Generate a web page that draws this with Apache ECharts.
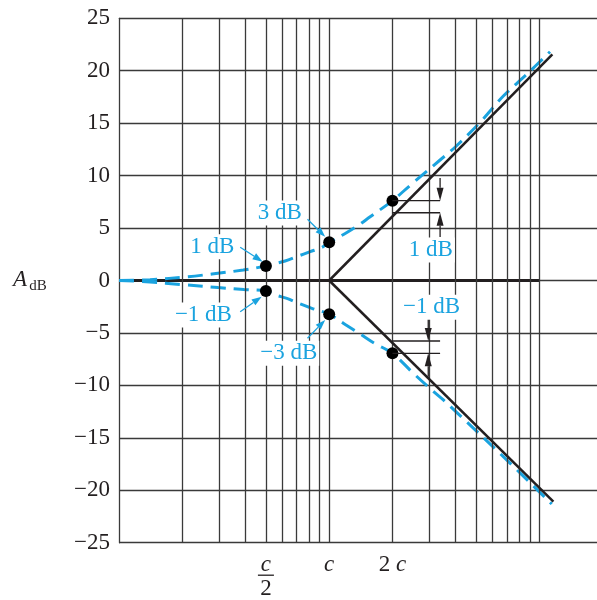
<!DOCTYPE html>
<html><head><meta charset="utf-8">
<script src="https://cdn.jsdelivr.net/npm/echarts@6/dist/echarts.min.js"></script>
<style>html,body{margin:0;padding:0;background:#fff}#c{width:597px;height:600px}</style>
</head><body><div id="c"></div>
<script>
// ---------- data ----------
const yMin = -25, yMax = 25, yStep = 5;
const gridFreqs = [2,3,4,5,6,7,8,9,10,20,30,40,50,60,70,80,90,100];
const xTickValues = [5, 10, 20];
const xTickLabels = ['c/2', 'c', '2 c'];
const zeroLine = [[1,0],[100,0]];
const asymUpper = [[10,0],[115.3,21.56]];
const asymLower = [[10,0],[116.6,-21.09]];
const exactUpper = [[1,0],[1.405,0.08],[2.13,0.36],[2.77,0.62],[3.9,1.0],[5,1.38],[5.43,1.57],[6.17,1.86],[7.04,2.29],[8.12,2.75],[9.23,3.16],[10,3.64],[11.92,4.48],[13.72,5.24],[15.67,6.08],[20,7.61],[24.3,9.08],[33.7,11.49],[39.8,12.73],[52.4,15.11],[67.4,17.59],[87.1,19.66],[112.4,21.81]];
const exactLower = [[1,0],[1.405,-0.14],[1.97,-0.38],[2.96,-0.67],[3.93,-0.86],[5,-1.0],[5.53,-1.38],[6.29,-1.70],[7.14,-2.17],[8.27,-2.65],[10,-3.22],[11.92,-4.19],[14.05,-5.10],[16.5,-6.01],[20,-6.94],[25.06,-8.82],[30.76,-10.44],[34.93,-11.39],[66.45,-16.68],[114.5,-21.31]];
const dotsUpper = [[5,1.38],[10,3.64],[20,7.61]];
const dotsLower = [[5,-1.0],[10,-3.22],[20,-6.94]];
const dotLabelsUpper = ['1 dB', '3 dB'];
const dotLabelsLower = ['\u22121 dB', '\u22123 dB'];
const dimUpperLevels = [7.61, 6.46];
const dimLowerLevels = [-5.77, -6.94];
const dimFrom = 20, dimTo = 33.7;
const dimUpperArrowF = 33.7, dimLowerArrowF = 29.6;
const dimUpperArrows = [[9.77, 7.61], [4.15, 6.46]];
const dimLowerArrows = [[-3.6, -5.77], [-9.17, -6.94]];
const dimLabels = ['1 dB', '\u22121 dB'];

// ---------- styles ----------
const FONT = '"Liberation Serif","Times New Roman",serif';
const BLUE = '#1aa3df';
const INK = '#231f20';
const GRIDC = '#3a3a3a';

const chart = echarts.init(document.getElementById('c'));
const option = {
  animation: false,
  backgroundColor: '#fff',
  grid: {left: 119, right: 0, top: 18.3, bottom: 57.3, containLabel: false},
  xAxis: {type: 'log', logBase: 10, min: 1, max: 188,
    axisLine: {show: false}, axisTick: {show: false}, axisLabel: {show: false},
    splitLine: {show: false}, minorTick: {show: false}, minorSplitLine: {show: false}},
  yAxis: {type: 'value', min: yMin, max: yMax, interval: yStep,
    axisLine: {show: true, lineStyle: {color: GRIDC, width: 1.3}},
    axisTick: {show: false},
    axisLabel: {fontFamily: FONT, fontSize: 23, color: INK, margin: 9,
      formatter: v => v < 0 ? '\u2212' + Math.abs(v) : String(v)},
    splitLine: {show: true, lineStyle: {color: GRIDC, width: 1.3}}},
  series: [
    {type: 'line', name: 'vgrid', data: [[1,0]], symbol: 'none', lineStyle: {opacity: 0}, silent: true, z: 1,
      markLine: {silent: true, symbol: ['none','none'], label: {show: false}, animation: false,
        lineStyle: {color: GRIDC, width: 1.3, type: 'solid'}, emphasis: {disabled: true},
        data: gridFreqs.map(f => ({xAxis: f}))}},
    {type: 'line', name: 'zero', data: zeroLine, symbol: 'none', silent: true, z: 3,
      lineStyle: {color: INK, width: 3}},
    {type: 'line', name: 'exactU', data: exactUpper, symbol: 'none', smooth: 0.35, silent: true, z: 4,
      lineStyle: {color: BLUE, width: 3, type: [15, 8]}},
    {type: 'line', name: 'exactL', data: exactLower, symbol: 'none', smooth: 0.35, silent: true, z: 4,
      lineStyle: {color: BLUE, width: 3, type: [15, 8]}},
    {type: 'line', name: 'asymU', data: asymUpper, symbol: 'none', silent: true, z: 5,
      lineStyle: {color: INK, width: 2.5}},
    {type: 'line', name: 'asymL', data: asymLower, symbol: 'none', silent: true, z: 5,
      lineStyle: {color: INK, width: 2.5}},
    {type: 'scatter', name: 'dots', data: dotsUpper.concat(dotsLower), symbol: 'circle', symbolSize: 12,
      silent: true, z: 10, itemStyle: {color: '#000', opacity: 1}}
  ]
};
chart.setOption(option);

// ---------- annotations positioned from data via the chart's scales ----------
const P = (f, v) => chart.convertToPixel({gridIndex: 0}, [f, v]);
const g = [];
function txt(str, x, y, opt) {
  opt = opt || {};
  g.push({type: 'text', z: 60, x: x, y: y, style: Object.assign({
    text: str, font: (opt.italic ? 'italic ' : '') + (opt.size || 23) + 'px ' + FONT,
    fill: opt.color || INK, align: opt.align || 'center', verticalAlign: 'middle',
    textAlign: opt.align || 'center', textVerticalAlign: 'middle'}, opt.extra || {})});
}
function arrow(x1, y1, x2, y2, color, len, wid, lw) {
  const dx = x2 - x1, dy = y2 - y1, d = Math.hypot(dx, dy), ux = dx / d, uy = dy / d;
  const bx = x2 - ux * len, by = y2 - uy * len, nx = -uy, ny = ux;
  g.push({type: 'line', z: 55, shape: {x1: x1, y1: y1, x2: bx, y2: by}, style: {stroke: color, lineWidth: lw}});
  g.push({type: 'polygon', z: 55, shape: {points: [[x2, y2], [bx + nx * wid / 2, by + ny * wid / 2], [bx - nx * wid / 2, by - ny * wid / 2]]}, style: {fill: color}});
}
const whiteBg = {backgroundColor: '#fff', padding: [1, 2]};

// callouts to dots: [dot, label, text offset, arrow tail offset, arrow tip offset]
const callouts = [
  [dotsUpper[0], dotLabelsUpper[0], [-53.5, -19.3], [-25.7, -18.7], [-3.3, -4.3]],
  [dotsUpper[1], dotLabelsUpper[1], [-49.5, -29.3], [-21.7, -23], [-4, -5.6]],
  [dotsLower[0], dotLabelsLower[0], [-62.5, 24], [-25.7, 20.7], [-4.3, 5.7]],
  [dotsLower[1], dotLabelsLower[1], [-40.5, 39], [-21.7, 24], [-4, 5.7]]
];
callouts.forEach(c => {
  const p = P(c[0][0], c[0][1]);
  txt(c[1], p[0] + c[2][0], p[1] + c[2][1], {color: BLUE, extra: whiteBg});
  arrow(p[0] + c[3][0], p[1] + c[3][1], p[0] + c[4][0], p[1] + c[4][1], BLUE, 10, 7, 1.3);
});

// dimension lines
dimUpperLevels.concat(dimLowerLevels).forEach(v => {
  const a = P(dimFrom, v), b = P(dimTo, v);
  g.push({type: 'line', z: 55, shape: {x1: a[0], y1: a[1], x2: b[0], y2: b[1]}, style: {stroke: INK, lineWidth: 1.3}});
});
dimUpperArrows.forEach(r => {
  const a = P(dimUpperArrowF, r[0]), b = P(dimUpperArrowF, r[1]);
  arrow(a[0], a[1], b[0], b[1], INK, 13, 7, 1.3);
});
dimLowerArrows.forEach(r => {
  const a = P(dimLowerArrowF, r[0]), b = P(dimLowerArrowF, r[1]);
  arrow(a[0], a[1], b[0], b[1], INK, 13, 7, 1.3);
});
{
  const a = P(dimUpperArrowF, dimUpperLevels[1]);
  txt(dimLabels[0], a[0] - 9.3, a[1] + 37.3, {color: BLUE, extra: whiteBg});
  const b = P(dimLowerArrowF, dimLowerLevels[0]);
  txt(dimLabels[1], b[0] + 3.4, b[1] - 33.7, {color: BLUE, extra: whiteBg});
}

// x tick labels
{
  const p0 = P(xTickValues[0], yMin);
  txt('c', p0[0], p0[1] + 22, {italic: true});
  g.push({type: 'line', z: 55, shape: {x1: p0[0] - 8, y1: p0[1] + 32.5, x2: p0[0] + 8, y2: p0[1] + 32.5}, style: {stroke: INK, lineWidth: 1.3}});
  txt('2', p0[0], p0[1] + 46);
  const p1 = P(xTickValues[1], yMin);
  txt(xTickLabels[1], p1[0], p1[1] + 22, {italic: true});
  const p2 = P(xTickValues[2], yMin);
  txt('{n|2} {i|c}', p2[0], p2[1] + 22, {extra: {rich: {
    n: {font: '23px ' + FONT, fill: INK, color: INK},
    i: {font: 'italic 23px ' + FONT, fill: INK, color: INK}}}});
}
// y axis title
{
  const o = P(1, 0);
  txt('A', o[0] - 99, o[1] - 1, {italic: true});
  txt('dB', o[0] - 89.7, o[1] + 5.5, {size: 15, align: 'left'});
}
chart.setOption({graphic: {elements: g}});
</script>
</body></html>
